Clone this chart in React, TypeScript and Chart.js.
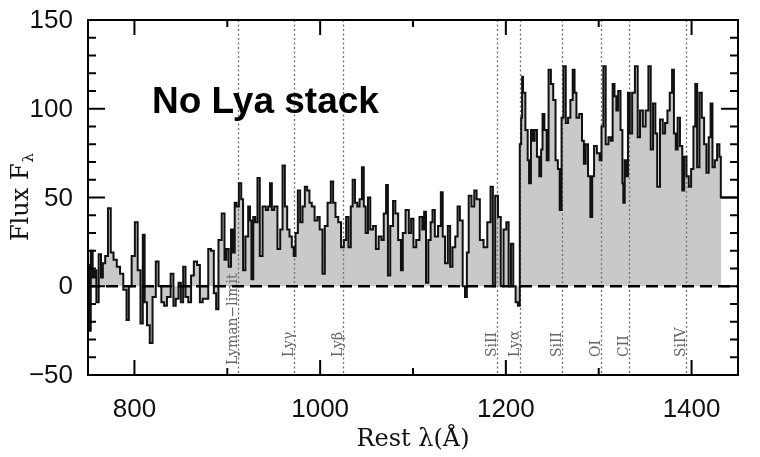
import React, { useEffect, useRef } from "react";
import { Chart, registerables } from "chart.js";

Chart.register(...registerables);

// ---- Data ----
const wavelength = [
  750, 752, 754, 756, 758, 760, 763, 765, 767, 770, 773, 776, 779, 783, 786, 790, 793, 795, 799,
  802, 805, 808, 810, 812, 815, 818, 821, 825, 827, 831, 833, 837, 841, 843, 846, 849, 851, 854,
  856, 860, 862, 866, 869, 872, 875, 878, 881, 884, 887, 889,
  892, 896, 898, 900, 903, 905, 907, 909, 911, 914, 916, 918, 921, 924, 925, 927, 929, 931, 934,
  936, 940, 943, 945, 947, 949, 952, 956, 958, 961, 963, 966, 968, 971, 972, 975, 977, 980, 982,
  985, 987, 990, 992, 996, 998, 1001, 1004, 1006, 1010, 1013, 1015, 1018, 1021, 1024, 1027,
  1029, 1032, 1034, 1036, 1039, 1041, 1044, 1046, 1048, 1050, 1053, 1055, 1059, 1061, 1065, 1067,
  1070, 1072, 1074, 1077, 1080, 1082, 1086, 1088, 1090, 1094, 1097, 1099, 1102, 1105, 1109, 1111,
  1113, 1115, 1118, 1120, 1122, 1125, 1129, 1131, 1133, 1136, 1139, 1141, 1144, 1147, 1149, 1152,
  1155, 1157, 1159, 1161, 1165, 1167, 1170, 1174, 1178, 1182, 1185, 1187, 1190, 1193, 1196, 1199,
  1202, 1204, 1207, 1209, 1212, 1214,
  1216, 1217, 1218, 1219, 1223, 1224, 1226, 1228, 1230, 1232, 1235, 1237, 1239, 1240, 1243, 1245,
  1247, 1250, 1252, 1255, 1257, 1259, 1261, 1263, 1266, 1268, 1271, 1273, 1275, 1277, 1281, 1283,
  1285, 1287, 1290, 1292, 1294, 1296, 1300, 1302, 1304,
  1306, 1309, 1312, 1314, 1316, 1318, 1320, 1322, 1325, 1326, 1327, 1329, 1331, 1332, 1335, 1337,
  1341, 1343, 1346, 1349, 1352, 1355, 1357, 1360, 1362, 1364, 1368, 1370, 1373, 1375, 1378, 1380,
  1382, 1384, 1386, 1389, 1391, 1393, 1396, 1398, 1401, 1403, 1405, 1407, 1410, 1412, 1415, 1417,
  1420, 1421, 1424, 1426, 1429, 1431, 1432,
];

const flux = [
  12, -25, 20, 5, 9, -9, 18, 5, 13, 17, 44, 19, 15, 11, 7, -2, -19, 0, 17,
  36, 9, -21, 29, -9, -22, -32, -6, 14, 0, -9, -11, -6, 7, -11, -7, 2, -9, 11,
  -6, -9, 6, 14, 12, -9, -7, -7, 21, 20, -4, -13,
  26, 41, 15, 21, 11, 32, 19, 47, 45, 58, 49, 9, 28, 45, 37, 4, 39, 36, 61,
  17, 45, 43, 45, 58, 43, 45, 21, 32, 68, 45, 32, 28, 22, 17, 30, 54, 36, 45,
  56, 54, 47, 45, 37, 39, 32, 7, 34, 47, 59, 47, 39, 36, 22, 26,
  39, 22, 45, 60, 47, 45, 49, 67, 45, 30, 50, 32, 34, 21, 28, 26,
  41, 57, 6, 34, 48, 41, 26, 9, 30, 43, 30, 38, 22, 26, 39, 32,
  42, 2, 26, 36, 43, 28, 34, 53, 28, 13, 34, 11, 22, 28, 45, 37,
  0, -6, 19, 51, 45, 54, 49, 26, 22, 36, 56, 0, 51, 39, 0, 32,
  36, 0, 24, 0, -9, -11,
  80, 95, 118, 109, 88, 71, 58, 88, 82, 88, 73, 62, 77, 97, 88, 71,
  122, 114, 105, 71, 66, 43, 95, 124, 92, 95, 105, 122, 109, 95, 97, 82,
  69, 80, 62, 39, 62, 79, 75, 71, 90,
  124, 80, 84, 82, 114, 107, 99, 110, 88, 58, 47, 71, 62, 109, 86, 109,
  124, 84, 99, 90, 99, 124, 77, 103, 86, 56, 94, 86, 92, 99, 109, 122,
  86, 77, 95, 79, 54, 73, 62, 56, 66, 90, 114, 67, 109, 95, 80, 64,
  84, 103, 67, 71, 80, 73, 50,
];

const tailWavelength = [1432, 1450];
const tailFlux = [50, 50];

const lineWavelengths = [911, 972, 1025, 1190, 1215, 1260, 1302, 1333, 1394];
const lineLabels = ["Lyman\u2212limit", "Ly\u03b3", "Ly\u03b2", "SiII", "Ly\u03b1", "SiII", "OI", "CII", "SiIV"];

const xTicks = [800, 1000, 1200, 1400];
const xMinorTicks = [900, 1100, 1300];
const yTicks = [-50, 0, 50, 100, 150];
const yMinorTicks = [-40, -30, -20, -10, 10, 20, 30, 40, 60, 70, 80, 90, 110, 120, 130, 140];

const xTitle = "Rest \u03bb(\u00c5)";
const yTitle = "Flux F";
const yTitleSub = "\u03bb";
const annotationText = "No Lya stack";

const X_MIN = 750;
const X_MAX = 1450;
const Y_MIN = -50;
const Y_MAX = 150;

const fmt = (v: number) => (v < 0 ? "\u2212" + Math.abs(v) : String(v));

const decorPlugin = {
  id: "decor",
  beforeDatasetsDraw(chart: any) {
    const { ctx, chartArea: a, scales } = chart;
    const xs = scales.x;
    ctx.save();
    ctx.strokeStyle = "#6f6f6f";
    ctx.lineWidth = 1.3;
    ctx.setLineDash([2, 2.5]);
    lineWavelengths.forEach((w) => {
      const x = Math.round(xs.getPixelForValue(w)) + 0.5;
      ctx.beginPath();
      ctx.moveTo(x, a.top);
      ctx.lineTo(x, a.bottom);
      ctx.stroke();
    });
    ctx.setLineDash([]);
    ctx.fillStyle = "#666";
    ctx.font = '14px "DejaVu Serif", serif';
    ctx.textAlign = "left";
    ctx.textBaseline = "alphabetic";
    lineWavelengths.forEach((w, i) => {
      const x = xs.getPixelForValue(w) - 1;
      const y0 = i === 0 ? a.bottom - 10 : a.bottom - 18;
      ctx.save();
      ctx.translate(x, y0);
      ctx.rotate(-Math.PI / 2);
      ctx.fillText(lineLabels[i], 0, 0);
      ctx.restore();
    });
    ctx.restore();
  },
  afterDatasetsDraw(chart: any) {
    const { ctx, chartArea: a, scales } = chart;
    const y0 = scales.y.getPixelForValue(0);
    ctx.save();
    ctx.strokeStyle = "#000";
    ctx.lineWidth = 2.5;
    ctx.setLineDash([12, 6]);
    ctx.beginPath();
    ctx.moveTo(a.left, y0);
    ctx.lineTo(a.right, y0);
    ctx.stroke();
    ctx.restore();
  },
  afterDraw(chart: any) {
    const { ctx, chartArea: a, scales } = chart;
    const xs = scales.x;
    const ys = scales.y;
    ctx.save();
    ctx.strokeStyle = "#000";
    ctx.lineWidth = 2;
    ctx.setLineDash([]);
    ctx.strokeRect(a.left, a.top, a.right - a.left, a.bottom - a.top);

    const seg = (x1: number, y1: number, x2: number, y2: number) => {
      ctx.beginPath();
      ctx.moveTo(x1, y1);
      ctx.lineTo(x2, y2);
      ctx.stroke();
    };
    const yTick = (v: number, len: number) => {
      const y = ys.getPixelForValue(v);
      seg(a.left, y, a.left + len, y);
      seg(a.right, y, a.right - len, y);
    };
    const xTick = (v: number, len: number) => {
      const x = xs.getPixelForValue(v);
      seg(x, a.bottom, x, a.bottom - len);
      seg(x, a.top, x, a.top + len);
    };
    yTicks.forEach((v) => yTick(v, 17));
    yMinorTicks.forEach((v) => yTick(v, 8));
    xTicks.forEach((v) => xTick(v, 15));
    xMinorTicks.forEach((v) => xTick(v, 7));

    ctx.fillStyle = "#111";
    ctx.font = '26px "Liberation Sans", Arial, sans-serif';
    ctx.textAlign = "right";
    ctx.textBaseline = "middle";
    yTicks.forEach((v) => {
      ctx.fillText(fmt(v), a.left - 15, ys.getPixelForValue(v) + 1);
    });
    ctx.textAlign = "center";
    ctx.textBaseline = "top";
    xTicks.forEach((v) => {
      ctx.fillText(fmt(v), xs.getPixelForValue(v), a.bottom + 22);
    });

    ctx.font = '24px "DejaVu Serif", serif';
    ctx.textAlign = "center";
    ctx.textBaseline = "alphabetic";
    ctx.fillText(xTitle, (a.left + a.right) / 2, a.bottom + 71);

    ctx.save();
    const cy = (a.top + a.bottom) / 2;
    ctx.translate(28, cy);
    ctx.rotate(-Math.PI / 2);
    ctx.font = '24px "DejaVu Serif", serif';
    const w1 = ctx.measureText(yTitle).width;
    ctx.font = '15px "DejaVu Serif", serif';
    const w2 = ctx.measureText(yTitleSub).width;
    const start = -(w1 + w2) / 2;
    ctx.textAlign = "left";
    ctx.font = '24px "DejaVu Serif", serif';
    ctx.fillText(yTitle, start, 0);
    ctx.font = '15px "DejaVu Serif", serif';
    ctx.fillText(yTitleSub, start + w1 + 1, 5);
    ctx.restore();

    ctx.font = 'bold 37px "Liberation Sans", Arial, sans-serif';
    ctx.textAlign = "left";
    ctx.textBaseline = "alphabetic";
    ctx.fillStyle = "#000";
    ctx.fillText(annotationText, a.left + 64, a.top + 93);
    ctx.restore();
  },
};

export default function App() {
  const ref = useRef<HTMLCanvasElement>(null);
  useEffect(() => {
    const canvas = ref.current;
    if (!canvas) return;
    const mainData = wavelength.map((w, i) => ({ x: w, y: flux[i] }));
    const tailData = tailWavelength.map((w, i) => ({ x: w, y: tailFlux[i] }));
    const chart = new Chart(canvas, {
      type: "line",
      data: {
        datasets: [
          {
            data: mainData,
            stepped: "middle",
            borderColor: "#111",
            borderWidth: 2,
            backgroundColor: "rgba(120,120,120,0.4)",
            fill: "origin",
            pointRadius: 0,
          },
          {
            data: tailData,
            borderColor: "#111",
            borderWidth: 2,
            fill: false,
            pointRadius: 0,
          },
        ],
      },
      options: {
        animation: false,
        responsive: false,
        devicePixelRatio: 1,
        layout: { padding: { left: 88, right: 22, top: 20, bottom: 82 } },
        scales: {
          x: { type: "linear", min: X_MIN, max: X_MAX, display: false },
          y: { type: "linear", min: Y_MIN, max: Y_MAX, display: false },
        },
        plugins: { legend: { display: false }, tooltip: { enabled: false } },
        events: [],
      } as any,
      plugins: [decorPlugin],
    });
    return () => chart.destroy();
  }, []);
  return (
    <div style={{ position: "absolute", left: 0, top: 0, width: 760, height: 457, background: "#fff" }}>
      <canvas ref={ref} width={760} height={457} style={{ display: "block", width: 760, height: 457 }} />
    </div>
  );
}
